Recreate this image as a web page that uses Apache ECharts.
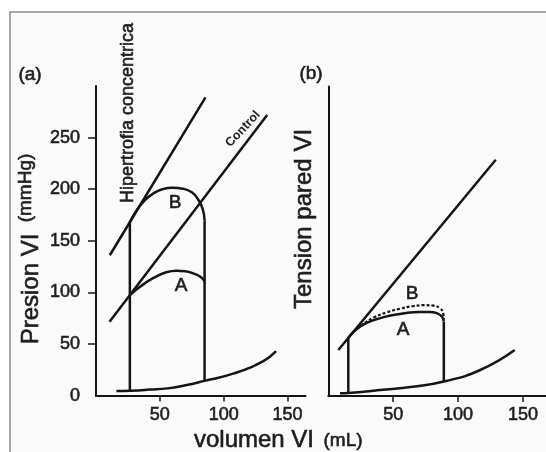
<!DOCTYPE html>
<html>
<head>
<meta charset="utf-8">
<script src="https://cdn.jsdelivr.net/npm/echarts@6/dist/echarts.min.js"></script>
<style>
  html, body { margin: 0; padding: 0; background: #fff; }
  #chart { width: 546px; height: 452px; }
</style>
</head>
<body>
<div id="chart"></div>
<script>
// ---- datos ----
// panel (a): presion VI vs volumen VI
const yTicksA = [50, 100, 150, 200, 250];
const yLabelsA = [0, 50, 100, 150, 200, 250];
const xTicks = [50, 100, 150];

const espvrHiper = [[10.8, 136], [85.7, 289]];
const espvrControl = [[10.6, 71.5], [134, 271.8]];
const edpvrA = [[16, 4.5], [27, 4.8], [42, 5.8], [56, 7], [70, 10], [84, 14], [108, 21.5], [131, 33.5], [141, 43]];
const loopBa = [[26.5, 168], [32, 180], [38, 189], [45, 196], [52, 200], [60, 201.5], [68, 200.5], [75, 197], [80, 190], [83.5, 181], [85, 170]];
const loopAa = [[26.5, 97.4], [35, 106], [45, 114], [55, 119.5], [63, 121], [70, 120.5], [77, 118], [82, 115], [85, 111]];
const leftWallA = [[26.5, 4.8], [26.5, 168]];
const rightWallA = [[85, 170], [85, 14]];

// panel (b): tension pared VI vs volumen VI
const espvrB = [[7.7, 44.6], [129, 229]];
const edpvrB = [[9, 2.6], [15.4, 3], [40, 5.8], [65, 9], [89, 14], [117, 25.2], [143.6, 44.6]];
const loopAb = [[15.4, 56.5], [22, 65], [30, 71], [40, 75.5], [50, 78.5], [60, 80.5], [70, 81.5], [78, 81.5], [84, 80], [87.5, 77], [89, 72]];
const loopBb = [[19, 62], [25, 68], [35, 76], [45, 81], [55, 84.5], [65, 87], [74, 88], [81, 87.5], [86, 85], [88.5, 80], [89, 74]];
const leftWallB = [[15.4, 3], [15.4, 56.5]];
const rightWallB = [[89, 72], [89, 14]];

const ink = '#141414';
const txt = '#1e1e1e';
const font = 'Liberation Sans, Arial, sans-serif';

function curve(data, xi, smooth, dashed) {
  return {
    type: 'line', data: data, xAxisIndex: xi, yAxisIndex: xi,
    symbol: 'none', smooth: smooth, silent: true,
    lineStyle: { color: ink, width: dashed ? 2.2 : 2.5, type: dashed ? [3, 2] : 'solid' }
  };
}

function label(text, x, y, size, rot, weight) {
  return {
    type: 'text', x: x, y: y, rotation: rot || 0,
    style: {
      text: text, fill: txt, font: (weight || 'normal') + ' ' + size + 'px ' + font,
      textAlign: 'center', textVerticalAlign: 'middle',
      stroke: weight ? null : txt, lineWidth: weight ? 0 : 0.6
    }
  };
}

const chart = echarts.init(document.getElementById('chart'));

const axisLine = { lineStyle: { color: ink, width: 2 } };
const tickLabel = { color: txt, fontSize: 18, fontFamily: font, textBorderColor: txt, textBorderWidth: 0.6 };

chart.setOption({
  animation: false,
  backgroundColor: '#fff',
  grid: [
    { left: 96, top: 86, width: 209.5, height: 309.6 },
    { left: 328.3, top: 86.4, width: 218, height: 309.6 }
  ],
  xAxis: [
    {
      type: 'value', gridIndex: 0, min: 0, max: 164,
      axisLine: axisLine, splitLine: { show: false },
      axisTick: { length: 6, lineStyle: { color: ink, width: 1.5 }, customValues: xTicks },
      axisLabel: Object.assign({ customValues: xTicks, margin: 10 }, tickLabel)
    },
    {
      type: 'value', gridIndex: 1, min: 0, max: 167.7,
      axisLine: axisLine, splitLine: { show: false },
      axisTick: { length: 6, lineStyle: { color: ink, width: 1.5 }, customValues: xTicks },
      axisLabel: Object.assign({ customValues: xTicks, margin: 10 }, tickLabel)
    }
  ],
  yAxis: [
    {
      type: 'value', gridIndex: 0, min: 0, max: 300,
      axisLine: axisLine, splitLine: { show: false },
      axisTick: { length: 8, lineStyle: { color: ink, width: 1.5 }, customValues: yTicksA },
      axisLabel: Object.assign({ customValues: yLabelsA, margin: 16 }, tickLabel)
    },
    {
      type: 'value', gridIndex: 1, min: 0, max: 300,
      axisLine: axisLine, splitLine: { show: false },
      axisTick: { show: false }, axisLabel: { show: false }
    }
  ],
  graphic: [
    {
      type: 'rect', z: -10, shape: { x: 10, y: 12, width: 560, height: 460 },
      style: { fill: '#fafafa', stroke: '#8a8a8a', lineWidth: 1.5 }
    },
    label('(a)', 30, 75, 19),
    label('(b)', 311, 74, 19),
    label('Hipertrofia concentrica', 128, 113, 18, Math.PI / 2),
    label('Control', 243, 129, 12.5, 0.82, 'bold'),
    label('B', 175, 203, 19),
    label('A', 181, 286, 19),
    label('B', 412, 294, 19),
    label('A', 403, 330, 19),
    label('Presion VI', 31, 289, 24, Math.PI / 2),
    label('(mmHg)', 26, 188, 19, Math.PI / 2),
    label('Tension pared VI', 304, 219, 24, Math.PI / 2),
    label('volumen VI', 254, 440, 24),
    label('(mL)', 343, 441, 19)
  ],
  series: [
    curve(espvrHiper, 0, false),
    curve(espvrControl, 0, false),
    curve(edpvrA, 0, true),
    curve(loopBa, 0, true),
    curve(loopAa, 0, true),
    curve(leftWallA, 0, false),
    curve(rightWallA, 0, false),
    curve(espvrB, 1, false),
    curve(edpvrB, 1, true),
    curve(loopAb, 1, true),
    curve(loopBb, 1, true, true),
    curve(leftWallB, 1, false),
    curve(rightWallB, 1, false)
  ]
});
</script>
</body>
</html>
